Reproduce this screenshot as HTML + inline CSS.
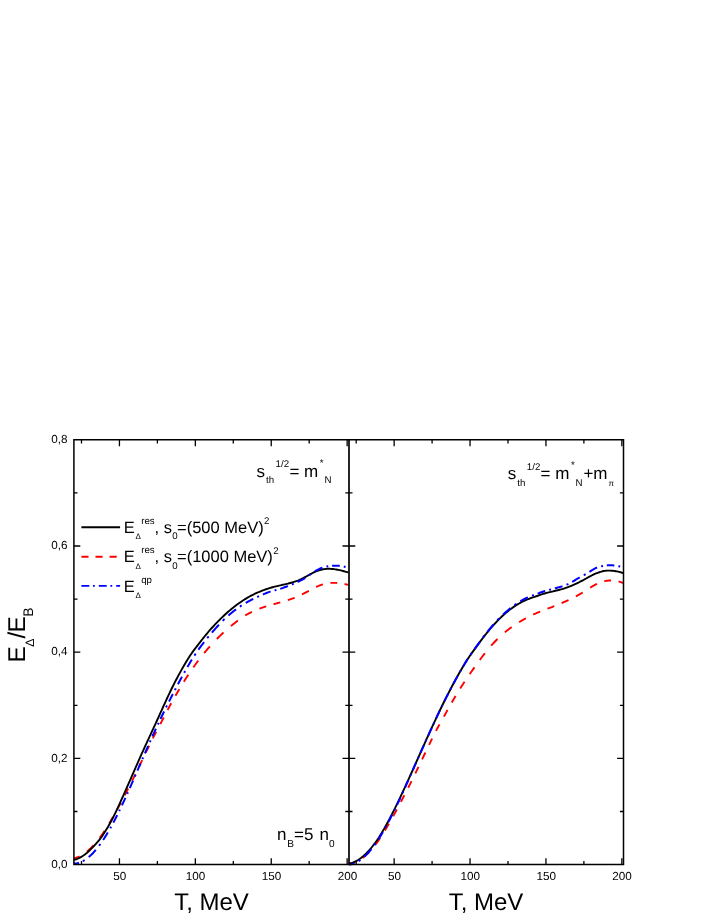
<!DOCTYPE html>
<html><head><meta charset="utf-8"><title>chart</title>
<style>html,body{margin:0;padding:0;background:#fff}body{width:708px;height:917px;position:relative;overflow:hidden;font-family:"Liberation Sans",sans-serif}</style>
</head><body>
<svg text-rendering="geometricPrecision" width="708" height="917" viewBox="0 0 708 917" style="position:absolute;left:0;top:0;will-change:transform">
<rect width="708" height="917" fill="#fff"/>
<g fill="none" stroke-linecap="butt" stroke-linejoin="round">
<path d="M73.90,858.32 L74.63,858.15 L75.36,857.95 L76.10,857.74 L76.83,857.49 L77.56,857.23 L78.29,856.94 L79.02,856.63 L79.57,856.38 M86.89,851.64 L87.62,851.03 L88.36,850.39 L89.09,849.73 L89.82,849.05 L90.55,848.34 L91.28,847.62 L92.02,846.87 L92.75,846.10 L93.48,845.31 L93.66,845.11 M99.70,837.79 L100.43,836.81 L101.17,835.81 L101.90,834.78 L102.63,833.74 L103.36,832.67 L104.09,831.58 L104.46,831.02 M109.22,823.45 L109.95,822.23 L110.68,821.00 L111.41,819.75 L112.14,818.50 L112.88,817.23 L113.06,816.91 M117.27,809.34 L118.00,807.99 L118.73,806.63 L119.46,805.27 L120.20,803.90 L120.93,802.52 M124.77,795.24 L125.50,793.82 L126.23,792.40 L126.97,790.97 L127.70,789.54 L128.25,788.46 M132.09,780.79 L132.82,779.32 L133.55,777.83 L134.29,776.35 L135.02,774.86 L135.38,774.11 M139.04,766.59 L139.78,765.08 L140.51,763.57 L141.24,762.05 L141.97,760.54 L142.15,760.16 M145.81,752.56 L146.55,751.04 L147.28,749.52 L148.01,748.00 L148.74,746.48 L149.11,745.72 M152.77,738.34 L153.50,736.93 L154.23,735.53 L154.96,734.14 L155.70,732.77 L156.24,731.74 M160.27,724.17 L161.00,722.76 L161.73,721.34 L162.47,719.90 L163.20,718.46 L163.75,717.39 M167.59,710.02 L168.32,708.64 L169.05,707.27 L169.79,705.91 L170.52,704.56 L171.25,703.22 M175.46,695.70 L176.19,694.43 L176.92,693.16 L177.65,691.91 L178.39,690.67 L179.12,689.43 L179.30,689.13 M183.88,681.66 L184.61,680.50 L185.34,679.35 L186.07,678.21 L186.80,677.08 L187.54,675.96 L188.27,674.85 M193.39,667.35 L194.12,666.31 L194.86,665.29 L195.59,664.28 L196.32,663.27 L197.05,662.28 L197.78,661.29 L198.33,660.56 M204.19,653.07 L204.92,652.18 L205.65,651.30 L206.38,650.42 L207.12,649.56 L207.85,648.70 L208.58,647.85 L209.31,647.02 L209.86,646.39 M216.81,638.96 L217.55,638.22 L218.28,637.49 L219.01,636.78 L219.74,636.07 L220.47,635.37 L221.21,634.68 L221.94,633.99 L222.67,633.30 L223.40,632.62 L223.58,632.46 M230.90,626.07 L231.64,625.47 L232.37,624.88 L233.10,624.30 L233.83,623.72 L234.56,623.14 L235.30,622.56 L236.03,621.98 L236.76,621.40 L237.49,620.83 L237.86,620.54 M245.18,615.43 L245.91,615.01 L246.64,614.61 L247.37,614.21 L248.11,613.82 L248.84,613.44 L249.57,613.07 L250.30,612.70 L251.03,612.34 L251.76,611.99 L251.95,611.90 M259.45,608.67 L260.18,608.39 L260.91,608.12 L261.65,607.85 L262.38,607.59 L263.11,607.34 L263.84,607.09 L264.57,606.85 L265.31,606.61 L266.04,606.38 L266.22,606.32 M273.54,604.20 L274.27,604.00 L275.00,603.80 L275.74,603.60 L276.47,603.41 L277.20,603.21 L277.93,603.01 L278.66,602.81 L279.40,602.61 L280.13,602.41 L280.31,602.36 M287.81,600.15 L288.55,599.91 L289.28,599.66 L290.01,599.41 L290.74,599.16 L291.47,598.89 L292.21,598.62 L292.94,598.35 L293.67,598.06 L294.40,597.77 L294.58,597.70 M301.90,594.42 L302.64,594.06 L303.37,593.70 L304.10,593.33 L304.83,592.96 L305.56,592.58 L306.30,592.20 L307.03,591.82 L307.76,591.43 L308.49,591.04 L308.86,590.84 M316.18,587.01 L316.91,586.66 L317.64,586.32 L318.37,586.00 L319.10,585.68 L319.84,585.39 L320.57,585.10 L321.30,584.84 L322.03,584.59 L322.76,584.36 L322.95,584.31 M330.45,582.95 L331.18,582.90 L331.91,582.86 L332.65,582.84 L333.38,582.83 L334.11,582.83 L334.84,582.85 L335.57,582.88 L336.31,582.91 L337.04,582.96 L337.22,582.98 M344.54,584.02 L345.27,584.17 L346.00,584.32 L346.74,584.48 L347.47,584.65 L348.20,584.83" stroke="#ff0000" stroke-width="1.9"/>
<path d="M73.90,859.81 L75.00,859.57 L76.10,859.26 L77.19,858.87 L78.29,858.42 L79.39,857.90 L80.49,857.32 L81.59,856.69 L82.68,856.00 L83.78,855.27 L84.88,854.47 L85.98,853.61 L87.08,852.70 L88.17,851.73 L89.27,850.72 L90.37,849.67 L91.47,848.58 L92.56,847.46 L93.66,846.31 L94.76,845.15 L95.86,843.95 L96.96,842.71 L98.05,841.43 L99.15,840.09 L100.25,838.69 L101.35,837.23 L102.45,835.69 L103.54,834.07 L104.64,832.36 L105.74,830.60 L106.84,828.79 L107.94,826.93 L109.03,825.02 L110.13,823.06 L111.23,821.04 L112.33,818.98 L113.43,816.85 L114.52,814.65 L115.62,812.39 L116.72,810.08 L117.82,807.72 L118.92,805.33 L120.01,802.91 L121.11,800.46 L122.21,798.01 L123.31,795.54 L124.40,793.09 L125.50,790.64 L126.60,788.18 L127.70,785.70 L128.80,783.21 L129.89,780.72 L130.99,778.21 L132.09,775.70 L133.19,773.18 L134.29,770.67 L135.38,768.15 L136.48,765.64 L137.58,763.14 L138.68,760.64 L139.78,758.16 L140.87,755.68 L141.97,753.23 L143.07,750.79 L144.17,748.36 L145.27,745.95 L146.36,743.56 L147.46,741.17 L148.56,738.79 L149.66,736.42 L150.76,734.05 L151.85,731.67 L152.95,729.30 L154.05,726.92 L155.15,724.53 L156.24,722.13 L157.34,719.73 L158.44,717.31 L159.54,714.88 L160.64,712.45 L161.73,710.02 L162.83,707.60 L163.93,705.18 L165.03,702.78 L166.13,700.39 L167.22,698.01 L168.32,695.66 L169.42,693.33 L170.52,691.03 L171.62,688.77 L172.71,686.54 L173.81,684.34 L174.91,682.17 L176.01,680.04 L177.11,677.94 L178.20,675.88 L179.30,673.85 L180.40,671.85 L181.50,669.89 L182.60,667.95 L183.69,666.06 L184.79,664.19 L185.89,662.35 L186.99,660.55 L188.08,658.78 L189.18,657.03 L190.28,655.33 L191.38,653.69 L192.48,652.13 L193.57,650.63 L194.67,649.17 L195.77,647.75 L196.87,646.35 L197.97,644.95 L199.06,643.53 L200.16,642.09 L201.26,640.65 L202.36,639.24 L203.46,637.84 L204.55,636.48 L205.65,635.13 L206.75,633.81 L207.85,632.51 L208.95,631.23 L210.04,629.97 L211.14,628.73 L212.24,627.50 L213.34,626.30 L214.44,625.12 L215.53,623.95 L216.63,622.81 L217.73,621.68 L218.83,620.57 L219.92,619.48 L221.02,618.40 L222.12,617.35 L223.22,616.31 L224.32,615.28 L225.41,614.27 L226.51,613.28 L227.61,612.30 L228.71,611.34 L229.81,610.40 L230.90,609.47 L232.00,608.56 L233.10,607.66 L234.20,606.79 L235.30,605.93 L236.39,605.09 L237.49,604.27 L238.59,603.47 L239.69,602.69 L240.79,601.92 L241.88,601.18 L242.98,600.46 L244.08,599.75 L245.18,599.07 L246.28,598.41 L247.37,597.76 L248.47,597.13 L249.57,596.52 L250.67,595.93 L251.76,595.36 L252.86,594.80 L253.96,594.26 L255.06,593.73 L256.16,593.22 L257.25,592.73 L258.35,592.25 L259.45,591.79 L260.55,591.33 L261.65,590.90 L262.74,590.47 L263.84,590.06 L264.94,589.66 L266.04,589.27 L267.14,588.90 L268.23,588.53 L269.33,588.18 L270.43,587.85 L271.53,587.53 L272.63,587.22 L273.72,586.93 L274.82,586.64 L275.92,586.36 L277.02,586.09 L278.12,585.83 L279.21,585.56 L280.31,585.31 L281.41,585.05 L282.51,584.80 L283.61,584.56 L284.70,584.31 L285.80,584.06 L286.90,583.81 L288.00,583.55 L289.09,583.28 L290.19,583.00 L291.29,582.71 L292.39,582.40 L293.49,582.07 L294.58,581.72 L295.68,581.35 L296.78,580.96 L297.88,580.54 L298.98,580.09 L300.07,579.61 L301.17,579.10 L302.27,578.56 L303.37,578.00 L304.47,577.42 L305.56,576.83 L306.66,576.24 L307.76,575.63 L308.86,575.03 L309.96,574.44 L311.05,573.85 L312.15,573.27 L313.25,572.72 L314.35,572.19 L315.45,571.68 L316.54,571.21 L317.64,570.77 L318.74,570.37 L319.84,570.02 L320.93,569.72 L322.03,569.46 L323.13,569.25 L324.23,569.08 L325.33,568.95 L326.42,568.87 L327.52,568.81 L328.62,568.80 L329.72,568.82 L330.82,568.86 L331.91,568.94 L333.01,569.05 L334.11,569.18 L335.21,569.34 L336.31,569.52 L337.40,569.72 L338.50,569.94 L339.60,570.17 L340.70,570.42 L341.80,570.69 L342.89,570.97 L343.99,571.25 L345.09,571.55 L346.19,571.85 L347.29,572.16 L348.20,572.41" stroke="#000000" stroke-width="1.9"/>
<path d="M73.90,863.62 L74.63,863.59 L75.36,863.53 L76.09,863.44 L76.82,863.31 L77.55,863.16 L78.28,862.97 L79.01,862.75 M82.85,861.12 L83.58,860.71 L84.31,860.28 L84.67,860.05 M88.69,857.10 L89.42,856.47 L90.15,855.82 L90.88,855.14 L91.61,854.43 L92.34,853.70 L93.07,852.94 L93.80,852.15 L94.53,851.34 L95.26,850.51 L95.81,849.87 M99.10,845.73 L99.83,844.75 L100.38,843.99 M103.11,840.03 L103.84,838.93 L104.57,837.79 L105.31,836.64 L106.04,835.47 L106.77,834.27 L107.50,833.06 L107.86,832.44 M110.24,828.32 L110.97,827.01 L111.15,826.68 M113.34,822.63 L114.07,821.24 L114.80,819.84 L115.53,818.42 L116.26,816.98 L116.99,815.53 L117.17,815.16 M119.18,811.09 L119.91,809.58 M121.92,805.37 L122.65,803.82 L123.38,802.25 L124.11,800.67 L124.84,799.09 L125.39,797.89 M127.22,793.87 L127.95,792.24 M129.77,788.15 L130.50,786.50 L131.23,784.85 L131.96,783.18 L132.69,781.52 L133.06,780.68 M134.88,776.50 L135.61,774.81 M137.44,770.60 L138.17,768.91 L138.90,767.22 L139.63,765.53 L140.36,763.84 L140.54,763.42 M142.37,759.20 L143.10,757.51 M144.93,753.30 L145.66,751.63 L146.39,749.95 L147.12,748.29 L147.85,746.62 L148.03,746.21 M149.86,742.08 L150.59,740.44 M152.41,736.37 L153.14,734.75 L153.87,733.15 L154.60,731.55 L155.33,729.96 L155.88,728.77 M157.89,724.46 L158.62,722.90 M160.45,719.05 L161.18,717.52 L161.91,716.00 L162.64,714.49 L163.37,712.98 L164.10,711.49 M166.11,707.40 L166.84,705.92 L167.02,705.56 M169.03,701.54 L169.76,700.09 L170.49,698.65 L171.22,697.22 L171.95,695.79 L172.68,694.36 L172.86,694.01 M174.87,690.13 L175.60,688.72 L175.78,688.38 M177.98,684.21 L178.71,682.83 L179.44,681.46 L180.17,680.09 L180.90,678.73 L181.63,677.38 L181.99,676.71 M184.18,672.72 L184.91,671.40 L185.10,671.08 M187.47,666.91 L188.20,665.65 L188.93,664.41 L189.66,663.18 L190.39,661.97 L191.12,660.77 L191.85,659.59 M194.41,655.60 L195.14,654.49 L195.69,653.68 M198.43,649.72 L199.16,648.69 L199.89,647.69 L200.62,646.69 L201.35,645.71 L202.08,644.74 L202.81,643.78 L203.54,642.83 L204.09,642.12 M207.19,638.24 L207.92,637.35 L208.65,636.46 M211.94,632.58 L212.67,631.74 L213.40,630.90 L214.13,630.06 L214.86,629.23 L215.59,628.41 L216.32,627.60 L217.05,626.79 L217.78,625.99 L218.51,625.20 L218.88,624.81 M222.71,620.84 L223.44,620.11 L224.17,619.40 L224.54,619.05 M228.37,615.53 L229.10,614.89 L229.83,614.27 L230.56,613.65 L231.29,613.05 L232.02,612.45 L232.75,611.87 L233.48,611.29 L234.21,610.72 L234.94,610.17 L235.67,609.62 L236.04,609.35 M239.87,606.65 L240.60,606.16 L241.33,605.68 L241.70,605.45 M245.72,602.97 L246.45,602.54 L247.18,602.12 L247.91,601.71 L248.64,601.30 L249.37,600.90 L250.10,600.51 L250.83,600.12 L251.56,599.74 L252.29,599.36 L253.02,598.99 L253.20,598.90 M257.22,596.97 L257.95,596.64 L258.68,596.31 L259.04,596.14 M262.88,594.49 L263.61,594.18 L264.34,593.88 L265.07,593.58 L265.80,593.29 L266.53,593.00 L267.26,592.71 L267.99,592.43 L268.72,592.14 L269.45,591.86 L270.18,591.58 L270.55,591.45 M274.56,590.38 L275.29,590.22 L276.03,590.06 L276.39,589.98 M280.22,588.88 L280.96,588.62 L281.69,588.35 L282.42,588.09 L283.15,587.82 L283.88,587.55 L284.61,587.28 L285.34,587.01 L286.07,586.74 L286.80,586.47 L287.53,586.19 L287.89,586.05 M291.91,584.46 L292.64,584.16 L293.37,583.85 L293.74,583.69 M297.57,581.99 L298.30,581.64 L299.03,581.29 L299.76,580.94 L300.49,580.57 L301.22,580.20 L301.95,579.82 L302.68,579.43 L303.41,579.01 L304.14,578.57 L304.87,578.11 L305.24,577.88 M309.07,575.24 L309.80,574.73 L310.53,574.23 L310.90,573.98 M314.92,571.37 L315.65,570.92 L316.38,570.48 L317.11,570.05 L317.84,569.65 L318.57,569.26 L319.30,568.89 L320.03,568.54 L320.76,568.22 L321.49,567.93 L322.22,567.66 L322.40,567.60 M326.42,566.57 L327.15,566.44 L327.88,566.32 L328.25,566.27 M332.08,565.82 L332.81,565.76 L333.54,565.71 L334.27,565.68 L335.00,565.66 L335.73,565.66 L336.46,565.67 L337.19,565.70 L337.92,565.74 L338.65,565.80 L339.38,565.87 L339.75,565.91 M343.77,566.58 L344.50,566.75 L345.23,566.92 L345.59,567.01" stroke="#0000ff" stroke-width="2.0"/>
<path d="M348.90,863.37 L349.63,863.31 L350.36,863.23 L351.10,863.11 L351.83,862.98 L352.56,862.81 L353.29,862.62 L354.03,862.40 L354.76,862.16 L355.12,862.03 M362.45,858.04 L363.18,857.50 L363.91,856.94 L364.64,856.34 L365.37,855.73 L366.11,855.08 L366.84,854.42 L367.57,853.72 L368.30,853.01 L369.04,852.26 L369.22,852.07 M375.63,844.44 L376.36,843.46 L377.09,842.45 L377.82,841.42 L378.55,840.37 L379.29,839.30 L380.02,838.22 L380.20,837.94 M384.96,830.45 L385.69,829.24 L386.43,828.02 L387.16,826.78 L387.89,825.54 L388.62,824.28 L388.99,823.65 M393.20,816.20 L393.93,814.87 L394.66,813.54 L395.40,812.19 L396.13,810.84 L396.86,809.48 M400.89,801.91 L401.62,800.51 L402.35,799.11 L403.08,797.71 L403.82,796.30 L404.37,795.24 M408.21,787.73 L408.94,786.28 L409.67,784.83 L410.41,783.37 L411.14,781.90 L411.50,781.16 M415.35,773.34 L416.08,771.83 L416.81,770.32 L417.55,768.81 L418.28,767.30 L418.46,766.92 M422.12,759.32 L422.85,757.80 L423.59,756.28 L424.32,754.76 L425.05,753.24 L425.42,752.48 M429.08,744.92 L429.81,743.42 L430.54,741.92 L431.27,740.42 L432.01,738.93 L432.19,738.56 M436.03,730.83 L436.77,729.42 L437.50,728.04 L438.23,726.69 L438.96,725.35 L439.51,724.37 M443.91,716.60 L444.64,715.30 L445.37,713.98 L446.10,712.65 L446.83,711.31 L447.57,709.98 M451.78,702.51 L452.51,701.23 L453.24,699.97 L453.97,698.72 L454.71,697.48 L455.44,696.24 L455.62,695.94 M460.20,688.47 L460.93,687.31 L461.66,686.17 L462.39,685.03 L463.13,683.91 L463.86,682.79 L464.59,681.68 M469.72,674.11 L470.45,673.06 L471.18,672.00 L471.91,670.96 L472.65,669.92 L473.38,668.88 L474.11,667.84 L474.48,667.33 M479.78,659.96 L480.52,658.97 L481.25,657.99 L481.98,657.02 L482.71,656.05 L483.45,655.10 L484.18,654.15 L484.91,653.22 M491.13,645.71 L491.87,644.89 L492.60,644.08 L493.33,643.28 L494.06,642.50 L494.80,641.73 L495.53,640.97 L496.26,640.22 L496.99,639.49 L497.54,638.95 M504.86,632.31 L505.60,631.71 L506.33,631.11 L507.06,630.53 L507.79,629.95 L508.52,629.39 L509.26,628.83 L509.99,628.28 L510.72,627.75 L511.45,627.22 L511.64,627.09 M519.14,622.15 L519.87,621.71 L520.61,621.28 L521.34,620.85 L522.07,620.42 L522.80,620.00 L523.53,619.58 L524.27,619.17 L525.00,618.76 L525.73,618.35 L525.91,618.25 M533.24,614.55 L533.97,614.21 L534.70,613.89 L535.43,613.57 L536.17,613.25 L536.90,612.94 L537.63,612.63 L538.36,612.33 L539.09,612.02 L539.83,611.73 L540.19,611.58 M547.52,608.73 L548.25,608.45 L548.98,608.18 L549.71,607.90 L550.44,607.62 L551.18,607.33 L551.91,607.05 L552.64,606.76 L553.37,606.47 L554.11,606.18 L554.29,606.10 M561.61,603.09 L562.34,602.78 L563.07,602.47 L563.81,602.15 L564.54,601.84 L565.27,601.53 L566.00,601.21 L566.74,600.88 L567.47,600.55 L568.20,600.22 L568.57,600.05 M575.89,596.38 L576.62,595.98 L577.35,595.58 L578.09,595.18 L578.82,594.77 L579.55,594.36 L580.28,593.95 L581.01,593.52 L581.75,593.09 L582.48,592.65 L582.66,592.54 M590.17,587.73 L590.90,587.26 L591.63,586.81 L592.36,586.36 L593.10,585.93 L593.83,585.50 L594.56,585.09 L595.29,584.69 L596.02,584.31 L596.76,583.94 L596.94,583.85 M604.26,581.23 L604.99,581.07 L605.73,580.92 L606.46,580.80 L607.19,580.69 L607.92,580.60 L608.66,580.53 L609.39,580.48 L610.12,580.44 L610.85,580.43 L611.04,580.43 M618.54,581.41 L619.27,581.61 L620.01,581.83 L620.74,582.07 L621.47,582.33 L622.20,582.61 L622.93,582.91 L623.30,583.07" stroke="#ff0000" stroke-width="1.9"/>
<path d="M348.90,863.43 L350.00,863.37 L351.10,863.19 L352.19,862.88 L353.29,862.46 L354.39,861.96 L355.49,861.42 L356.59,860.86 L357.69,860.23 L358.78,859.53 L359.88,858.77 L360.98,857.95 L362.08,857.07 L363.18,856.14 L364.28,855.15 L365.37,854.13 L366.47,853.07 L367.57,851.96 L368.67,850.81 L369.77,849.60 L370.87,848.34 L371.96,847.01 L373.06,845.62 L374.16,844.19 L375.26,842.71 L376.36,841.18 L377.46,839.59 L378.55,837.93 L379.65,836.20 L380.75,834.43 L381.85,832.62 L382.95,830.77 L384.05,828.88 L385.14,826.95 L386.24,824.98 L387.34,822.98 L388.44,820.95 L389.54,818.88 L390.64,816.78 L391.73,814.66 L392.83,812.50 L393.93,810.32 L395.03,808.11 L396.13,805.87 L397.23,803.61 L398.32,801.34 L399.42,799.04 L400.52,796.72 L401.62,794.38 L402.72,792.02 L403.82,789.66 L404.91,787.27 L406.01,784.88 L407.11,782.47 L408.21,780.05 L409.31,777.63 L410.41,775.19 L411.50,772.75 L412.60,770.31 L413.70,767.86 L414.80,765.41 L415.90,762.95 L417.00,760.50 L418.09,758.04 L419.19,755.58 L420.29,753.13 L421.39,750.68 L422.49,748.22 L423.59,745.78 L424.68,743.33 L425.78,740.89 L426.88,738.46 L427.98,736.03 L429.08,733.62 L430.18,731.21 L431.27,728.81 L432.37,726.41 L433.47,724.03 L434.57,721.67 L435.67,719.31 L436.77,716.97 L437.86,714.64 L438.96,712.33 L440.06,710.03 L441.16,707.75 L442.26,705.49 L443.36,703.24 L444.45,701.02 L445.55,698.81 L446.65,696.63 L447.75,694.46 L448.85,692.32 L449.95,690.20 L451.04,688.10 L452.14,686.02 L453.24,683.97 L454.34,681.94 L455.44,679.92 L456.54,677.93 L457.63,675.97 L458.73,674.02 L459.83,672.09 L460.93,670.19 L462.03,668.31 L463.13,666.45 L464.22,664.61 L465.32,662.80 L466.42,661.04 L467.52,659.32 L468.62,657.66 L469.72,656.04 L470.81,654.45 L471.91,652.90 L473.01,651.37 L474.11,649.86 L475.21,648.36 L476.31,646.87 L477.40,645.39 L478.50,643.91 L479.60,642.41 L480.70,640.92 L481.80,639.44 L482.90,637.98 L483.99,636.55 L485.09,635.14 L486.19,633.75 L487.29,632.39 L488.39,631.05 L489.49,629.73 L490.58,628.43 L491.68,627.16 L492.78,625.91 L493.88,624.69 L494.98,623.49 L496.08,622.31 L497.17,621.16 L498.27,620.03 L499.37,618.93 L500.47,617.85 L501.57,616.80 L502.67,615.77 L503.76,614.76 L504.86,613.79 L505.96,612.83 L507.06,611.91 L508.16,611.01 L509.26,610.13 L510.35,609.28 L511.45,608.46 L512.55,607.66 L513.65,606.89 L514.75,606.15 L515.85,605.43 L516.94,604.74 L518.04,604.08 L519.14,603.45 L520.24,602.84 L521.34,602.26 L522.44,601.70 L523.53,601.16 L524.63,600.64 L525.73,600.15 L526.83,599.68 L527.93,599.23 L529.03,598.79 L530.12,598.37 L531.22,597.97 L532.32,597.58 L533.42,597.21 L534.52,596.86 L535.62,596.50 L536.71,596.13 L537.81,595.74 L538.91,595.34 L540.01,594.93 L541.11,594.54 L542.21,594.16 L543.30,593.81 L544.40,593.49 L545.50,593.21 L546.60,592.93 L547.70,592.66 L548.80,592.39 L549.89,592.12 L550.99,591.85 L552.09,591.58 L553.19,591.30 L554.29,591.03 L555.39,590.77 L556.48,590.51 L557.58,590.25 L558.68,589.98 L559.78,589.71 L560.88,589.43 L561.98,589.13 L563.07,588.81 L564.17,588.47 L565.27,588.10 L566.37,587.71 L567.47,587.31 L568.57,586.90 L569.66,586.47 L570.76,586.03 L571.86,585.57 L572.96,585.10 L574.06,584.62 L575.16,584.12 L576.25,583.61 L577.35,583.09 L578.45,582.56 L579.55,582.01 L580.65,581.46 L581.75,580.89 L582.84,580.31 L583.94,579.71 L585.04,579.11 L586.14,578.50 L587.24,577.88 L588.34,577.27 L589.43,576.66 L590.53,576.07 L591.63,575.49 L592.73,574.93 L593.83,574.40 L594.93,573.91 L596.02,573.45 L597.12,573.03 L598.22,572.63 L599.32,572.25 L600.42,571.89 L601.52,571.56 L602.61,571.28 L603.71,571.04 L604.81,570.86 L605.91,570.75 L607.01,570.66 L608.11,570.62 L609.20,570.61 L610.30,570.63 L611.40,570.69 L612.50,570.77 L613.60,570.89 L614.70,571.04 L615.79,571.21 L616.89,571.42 L617.99,571.64 L619.09,571.90 L620.19,572.17 L621.29,572.47 L622.38,572.80 L623.30,573.08" stroke="#000000" stroke-width="1.9"/>
<path d="M348.90,864.49 L349.63,864.50 L350.36,864.47 L351.10,864.37 L351.83,864.21 L352.56,864.00 L353.29,863.75 L354.03,863.46 L354.57,863.22 M358.60,861.14 L359.33,860.67 L360.07,860.18 L360.43,859.92 M364.28,856.75 L365.01,856.07 L365.74,855.36 L366.47,854.63 L367.21,853.88 L367.94,853.11 L368.67,852.31 L369.40,851.49 L370.13,850.64 L370.87,849.77 L371.42,849.10 M374.53,845.04 L375.26,844.03 L375.63,843.52 M378.37,839.45 L379.10,838.29 L379.84,837.11 L380.57,835.92 L381.30,834.70 L382.03,833.47 L382.77,832.22 L382.95,831.91 M385.33,827.72 L386.06,826.39 L386.24,826.06 M388.44,821.99 L389.17,820.60 L389.90,819.20 L390.64,817.78 L391.37,816.36 L392.10,814.91 L392.28,814.55 M394.30,810.51 L395.03,809.02 M397.04,804.87 L397.78,803.33 L398.51,801.79 L399.24,800.24 L399.97,798.68 L400.52,797.50 M402.54,793.13 L403.27,791.52 M405.10,787.47 L405.83,785.84 L406.56,784.20 L407.29,782.55 L408.03,780.90 L408.39,780.08 M410.22,775.95 L410.96,774.29 M412.79,770.15 L413.52,768.50 L414.25,766.85 L414.98,765.20 L415.72,763.55 L416.08,762.73 M417.91,758.61 L418.64,756.96 M420.47,752.85 L421.21,751.20 L421.94,749.56 L422.67,747.92 L423.40,746.28 L423.77,745.46 M425.60,741.37 L426.33,739.74 M428.16,735.68 L428.90,734.06 L429.63,732.45 L430.36,730.84 L431.09,729.23 L431.64,728.03 M433.47,724.05 L434.20,722.47 M436.22,718.14 L436.95,716.58 L437.68,715.03 L438.41,713.48 L439.15,711.94 L439.70,710.79 M441.71,706.62 L442.44,705.11 M444.45,701.02 L445.19,699.54 L445.92,698.08 L446.65,696.63 L447.38,695.18 L448.12,693.75 L448.30,693.39 M450.31,689.50 L451.04,688.10 L451.23,687.75 M453.42,683.63 L454.16,682.27 L454.89,680.93 L455.62,679.59 L456.35,678.26 L457.09,676.95 L457.45,676.29 M459.83,672.09 L460.56,670.82 L460.75,670.51 M463.13,666.45 L463.86,665.22 L464.59,664.01 L465.32,662.80 L466.06,661.62 L466.79,660.45 L467.52,659.31 L467.70,659.03 M470.45,654.91 L471.18,653.85 L471.73,653.06 M474.48,649.19 L475.21,648.18 L475.94,647.17 L476.67,646.16 L477.40,645.15 L478.14,644.14 L478.87,643.13 L479.60,642.12 L479.97,641.61 M482.90,637.62 L483.63,636.65 L484.36,635.69 M487.29,631.94 L488.02,631.03 L488.75,630.13 L489.49,629.23 L490.22,628.35 L490.95,627.48 L491.68,626.62 L492.42,625.77 L493.15,624.93 L493.70,624.31 M497.36,620.31 L498.09,619.54 L498.82,618.78 L499.19,618.41 M503.03,614.63 L503.76,613.95 L504.50,613.27 L505.23,612.61 L505.96,611.96 L506.69,611.32 L507.43,610.68 L508.16,610.06 L508.89,609.46 L509.62,608.86 L510.35,608.27 L510.54,608.12 M514.57,605.07 L515.30,604.55 L516.03,604.04 L516.40,603.79 M520.24,601.31 L520.97,600.88 L521.70,600.45 L522.44,600.04 L523.17,599.64 L523.90,599.25 L524.63,598.87 L525.37,598.50 L526.10,598.14 L526.83,597.80 L527.56,597.46 L527.93,597.30 M531.96,595.66 L532.69,595.39 L533.42,595.13 L533.79,595.00 M537.63,593.64 L538.36,593.36 L539.09,593.08 L539.83,592.80 L540.56,592.52 L541.29,592.25 L542.02,591.99 L542.76,591.73 L543.49,591.49 L544.22,591.26 L544.95,591.04 L545.14,590.99 M549.16,589.88 L549.89,589.68 L550.63,589.48 L550.99,589.38 M554.84,588.34 L555.57,588.15 L556.30,587.96 L557.03,587.78 L557.77,587.59 L558.50,587.40 L559.23,587.21 L559.96,587.01 L560.70,586.80 L561.43,586.59 L562.16,586.37 L562.53,586.25 M566.55,584.75 L567.29,584.42 L568.02,584.08 L568.38,583.90 M572.23,581.89 L572.96,581.46 L573.69,581.02 L574.42,580.56 L575.16,580.09 L575.89,579.63 L576.62,579.17 L577.35,578.74 L578.09,578.33 L578.82,577.94 L579.55,577.55 L579.73,577.46 M583.76,575.25 L584.49,574.83 L585.22,574.40 L585.59,574.18 M589.43,571.78 L590.17,571.33 L590.90,570.88 L591.63,570.44 L592.36,569.99 L593.10,569.55 L593.83,569.12 L594.56,568.71 L595.29,568.32 L596.02,567.97 L596.76,567.67 L597.12,567.53 M601.15,566.36 L601.88,566.20 L602.61,566.05 L602.98,565.97 M606.83,565.42 L607.56,565.36 L608.29,565.31 L609.02,565.27 L609.75,565.25 L610.49,565.25 L611.22,565.27 L611.95,565.30 L612.68,565.35 L613.42,565.41 L614.15,565.49 L614.33,565.51 M618.36,566.16 L619.09,566.32 L619.82,566.48 L620.19,566.57" stroke="#0000ff" stroke-width="2.0"/>
</g>
<g stroke="#000" stroke-width="1.5" fill="none" stroke-linecap="butt">
<path d="M73.9,439.05 V865.35 M623.5,439.05 V865.35 M73.9,439.8 H623.5 M73.9,864.6 H623.5"/>
<path d="M349.0,439.8 V864.6" stroke-width="1.7"/>
</g>
<path d="M81.49,439.8 v3.6 M81.49,864.6 v-3.6 M356.19,439.8 v3.6 M356.19,864.6 v-3.6 M119.44,439.8 v6.4 M119.44,864.6 v-6.4 M394.14,439.8 v6.4 M394.14,864.6 v-6.4 M157.39,439.8 v3.6 M157.39,864.6 v-3.6 M432.09,439.8 v3.6 M432.09,864.6 v-3.6 M195.34,439.8 v6.4 M195.34,864.6 v-6.4 M470.04,439.8 v6.4 M470.04,864.6 v-6.4 M233.29,439.8 v3.6 M233.29,864.6 v-3.6 M507.99,439.8 v3.6 M507.99,864.6 v-3.6 M271.24,439.8 v6.4 M271.24,864.6 v-6.4 M545.94,439.8 v6.4 M545.94,864.6 v-6.4 M309.19,439.8 v3.6 M309.19,864.6 v-3.6 M583.89,439.8 v3.6 M583.89,864.6 v-3.6 M347.14,439.8 v6.4 M347.14,864.6 v-6.4 M621.84,439.8 v6.4 M621.84,864.6 v-6.4 M73.9,811.50 h3.6 M348.9,811.50 h-3.6 M348.9,811.50 h3.6 M623.5,811.50 h-3.6 M73.9,758.40 h6.4 M348.9,758.40 h-6.4 M348.9,758.40 h6.4 M623.5,758.40 h-6.4 M73.9,705.30 h3.6 M348.9,705.30 h-3.6 M348.9,705.30 h3.6 M623.5,705.30 h-3.6 M73.9,652.20 h6.4 M348.9,652.20 h-6.4 M348.9,652.20 h6.4 M623.5,652.20 h-6.4 M73.9,599.10 h3.6 M348.9,599.10 h-3.6 M348.9,599.10 h3.6 M623.5,599.10 h-3.6 M73.9,546.00 h6.4 M348.9,546.00 h-6.4 M348.9,546.00 h6.4 M623.5,546.00 h-6.4 M73.9,492.90 h3.6 M348.9,492.90 h-3.6 M348.9,492.90 h3.6 M623.5,492.90 h-3.6" stroke="#000" stroke-width="1.3" fill="none"/>
<g font-family="Liberation Sans, sans-serif" font-size="11.7" fill="#000">
<text x="67.6" y="867.8" text-anchor="end">0,0</text>
<text x="67.6" y="761.6" text-anchor="end">0,2</text>
<text x="67.6" y="655.4" text-anchor="end">0,4</text>
<text x="67.6" y="549.2" text-anchor="end">0,6</text>
<text x="67.6" y="443.0" text-anchor="end">0,8</text>
<text x="119.7" y="879.9" text-anchor="middle">50</text>
<text x="394.4" y="879.9" text-anchor="middle">50</text>
<text x="195.6" y="879.9" text-anchor="middle">100</text>
<text x="470.3" y="879.9" text-anchor="middle">100</text>
<text x="271.5" y="879.9" text-anchor="middle">150</text>
<text x="546.2" y="879.9" text-anchor="middle">150</text>
<text x="347.4" y="879.9" text-anchor="middle">200</text>
<text x="622.1" y="879.9" text-anchor="middle">200</text>
</g>
<g font-family="Liberation Sans, sans-serif" fill="#000">
<text x="211.5" y="909.8" font-size="24" text-anchor="middle">T, MeV</text>
<text x="486.0" y="909.8" font-size="24" text-anchor="middle">T, MeV</text>
<g transform="translate(24.6,662.4) rotate(-90)">
<text x="0" y="0" font-size="24.3">E</text>
<text x="15.7" y="9.4" font-size="12.3">Δ</text>
<text x="23.9" y="0" font-size="24.3">/</text>
<text x="29.9" y="0" font-size="24.3">E</text>
<text x="45.7" y="8.8" font-size="13.9">B</text>
</g>
</g>
<g fill="none" stroke-width="1.9">
<path d="M81.4,527.2 H120.1" stroke="#000"/>
<path d="M81.4,556.7 H120.1" stroke="#f00" stroke-dasharray="7.1 7.0"/>
<path d="M81.4,585.9 H120.1" stroke="#00f" stroke-dasharray="7.9 3.7 1.8 4.0"/>
</g>
<g font-family="Liberation Sans, sans-serif" fill="#000">
<text x="123.8" y="533.0" font-size="16.5">E</text>
<text x="135.6" y="539.3" font-size="8.0">Δ</text>
<text x="141.2" y="523.6" font-size="9.7">res</text>
<text x="154.6" y="533.0" font-size="16.5">, s</text>
<text x="172.2" y="539.4" font-size="9.7">0</text>
<text x="177.0" y="533.0" font-size="16.5">=(500 MeV)</text>
<text x="264.0" y="524.3" font-size="9.7">2</text>
<text x="123.8" y="562.3" font-size="16.5">E</text>
<text x="135.6" y="568.5999999999999" font-size="8.0">Δ</text>
<text x="141.2" y="552.9" font-size="9.7">res</text>
<text x="154.6" y="562.3" font-size="16.5">, s</text>
<text x="172.2" y="568.6999999999999" font-size="9.7">0</text>
<text x="177.0" y="562.3" font-size="16.5">=(1000 MeV)</text>
<text x="273.2" y="553.5999999999999" font-size="9.7">2</text>
<text x="123.8" y="592.0" font-size="16.5">E</text>
<text x="135.6" y="598.3" font-size="8.0">Δ</text>
<text x="141.2" y="582.6" font-size="9.7">qp</text>
<text x="256.6" y="476.6" font-size="17.0">s</text>
<text x="266.0" y="483.40000000000003" font-size="9.7">th</text>
<text x="275.6" y="467.40000000000003" font-size="9.7">1/2</text>
<text x="289.4" y="476.6" font-size="17.0">= m</text>
<text x="319.8" y="465.6" font-size="9.7">*</text>
<text x="324.4" y="483.40000000000003" font-size="9.7">N</text>
<text x="507.8" y="478.8" font-size="17.0">s</text>
<text x="517.2" y="485.6" font-size="9.7">th</text>
<text x="526.8" y="469.6" font-size="9.7">1/2</text>
<text x="540.6" y="478.8" font-size="17.0">= m</text>
<text x="571.0" y="467.8" font-size="9.7">*</text>
<text x="575.6" y="485.6" font-size="9.7">N</text>
<text x="583.4" y="478.8" font-size="17.0">+m</text>
<text x="608.4" y="485.8" font-size="8.0">π</text>
<text x="277.0" y="840.1" font-size="17.0">n</text>
<text x="287.3" y="847.3000000000001" font-size="10.1">B</text>
<text x="294.0" y="840.1" font-size="17.0">=5</text>
<text x="319.4" y="840.1" font-size="17.0">n</text>
<text x="329.0" y="847.3000000000001" font-size="10.1">0</text>
</g>
</svg>
</body></html>
